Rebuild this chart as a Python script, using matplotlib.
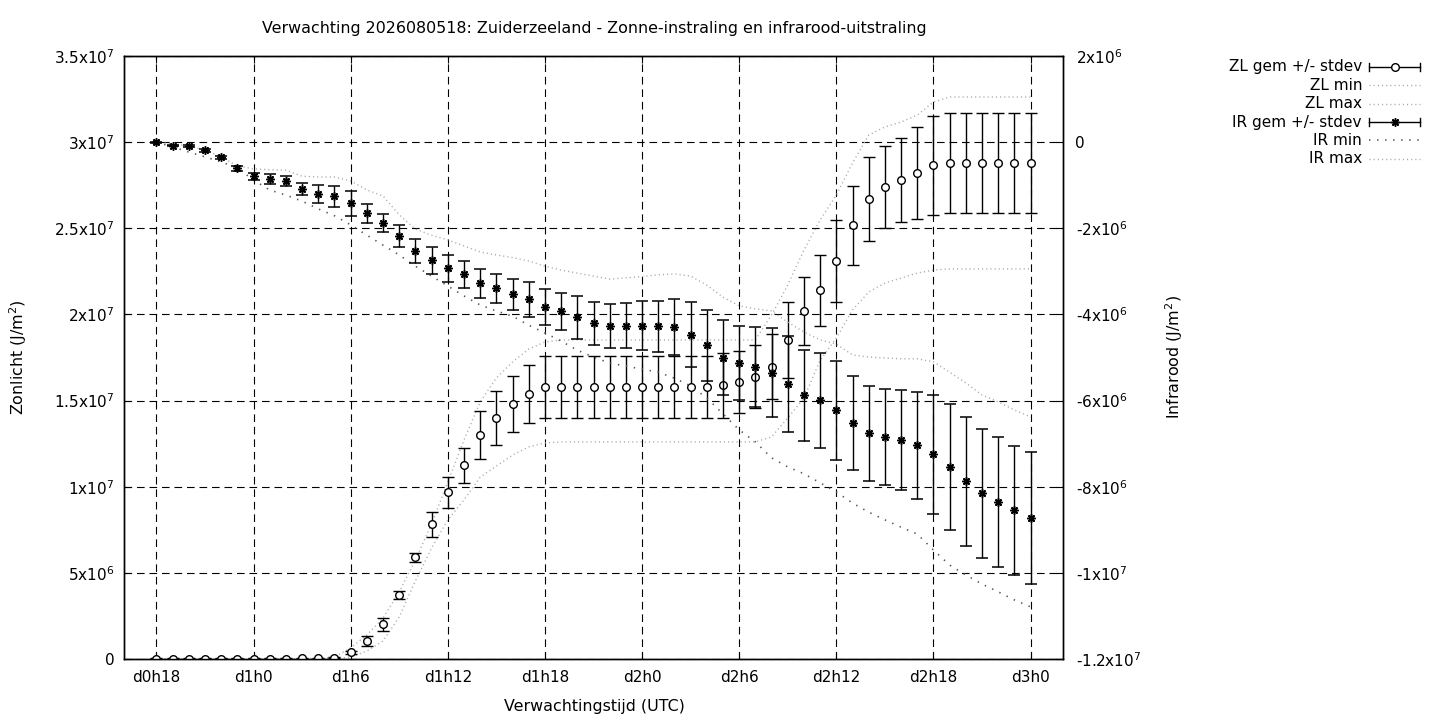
import numpy as np
import matplotlib
matplotlib.use('Agg')
import matplotlib.pyplot as plt
from matplotlib.lines import Line2D

# hours since d0h0 (one forecast step per hour)
hours = np.arange(18, 73)

# Zonlicht (left axis), values in 1e6 J/m2
zl_mean = np.array([0.02] * 9 + [0.03, 0.04, 0.08, 0.39, 1.04, 2.01, 3.70, 5.90, 7.82, 9.67,
                    11.24, 13.00, 13.99, 14.80, 15.38] + [15.79] * 11 +
                   [15.90, 16.06, 16.37, 16.97, 18.52, 20.20, 21.40, 23.08, 25.17, 26.68,
                    27.38, 27.78, 28.19, 28.66] + [28.77] * 6)
zl_sd = np.array([0.02] * 12 + [0.09, 0.29, 0.37, 0.22, 0.28, 0.74, 0.90, 1.00, 1.39, 1.57,
                  1.63, 1.68] + [1.80] * 11 +
                 [1.89, 1.80, 1.83, 1.90, 2.19, 1.97, 2.06, 2.38, 2.28, 2.44, 2.38, 2.44,
                  2.67, 2.88] + [2.90] * 6)
zl_min = np.array([0.0] * 12 + [0.12, 0.46, 1.04, 2.44, 4.53, 6.44, 8.07, 9.23, 10.56, 11.20,
                   11.84, 12.31, 12.54] + [12.60] * 13 +
                  [12.89, 13.99, 15.15, 17.35, 18.63, 20.26, 21.30, 21.82, 22.11, 22.40,
                   22.58] + [22.64] * 6)
zl_max = np.array([0.0] * 11 + [0.12, 0.64, 1.39, 2.38, 3.89, 5.75, 7.84, 10.27, 12.71, 14.92,
                   16.31, 17.24, 17.99, 18.40] + [18.52] * 13 +
                  [19.97, 21.71, 23.74, 25.48, 26.93, 28.79, 30.41, 30.88, 31.17, 31.57,
                   32.33] + [32.62] * 6)

# Infrarood (right axis), values in 1e6 J/m2
ir_mean = np.array([-0.00, -0.08, -0.09, -0.19, -0.35, -0.61, -0.79, -0.85, -0.90, -1.08,
                    -1.20, -1.26, -1.42, -1.65, -1.88, -2.18, -2.53, -2.74, -2.93, -3.07,
                    -3.28, -3.39, -3.53, -3.65, -3.83, -3.93, -4.07, -4.20, -4.26, -4.26,
                    -4.26, -4.28, -4.30, -4.47, -4.72, -5.00, -5.13, -5.23, -5.35, -5.62,
                    -5.88, -5.99, -6.23, -6.53, -6.76, -6.85, -6.92, -7.04, -7.25, -7.55,
                    -7.87, -8.15, -8.36, -8.55, -8.73])
ir_sd = np.array([0.01, 0.02, 0.02, 0.03, 0.03, 0.05, 0.08, 0.12, 0.12, 0.14,
                  0.21, 0.25, 0.29, 0.22, 0.21, 0.26, 0.27, 0.31, 0.31, 0.31,
                  0.34, 0.34, 0.36, 0.41, 0.42, 0.42, 0.49, 0.50, 0.51, 0.53,
                  0.57, 0.59, 0.65, 0.76, 0.82, 0.87, 0.86, 0.93, 1.04, 1.12,
                  1.06, 1.10, 1.14, 1.09, 1.10, 1.11, 1.16, 1.25, 1.39, 1.46,
                  1.50, 1.50, 1.51, 1.50, 1.54])
ir_min = np.array([0.00, -0.11, -0.23, -0.34, -0.46, -0.60, -0.88, -1.11, -1.23, -1.37,
                   -1.55, -1.71, -1.92, -2.16, -2.39, -2.62, -2.88, -3.11, -3.34, -3.57,
                   -3.78, -3.92, -4.04, -4.25, -4.43, -4.62, -4.83, -4.99, -5.13, -5.20,
                   -5.27, -5.34, -5.48, -5.66, -5.94, -6.31, -6.68, -6.96, -7.33, -7.54,
                   -7.70, -7.91, -8.12, -8.38, -8.59, -8.77, -8.94, -9.10, -9.47, -9.82,
                   -10.05, -10.26, -10.44, -10.63, -10.79])
ir_max = np.array([0.00, -0.04, -0.09, -0.18, -0.34, -0.55, -0.62, -0.64, -0.65, -0.79,
                   -0.81, -0.81, -0.90, -1.11, -1.25, -1.69, -2.02, -2.16, -2.27, -2.41,
                   -2.55, -2.62, -2.68, -2.76, -2.88, -2.97, -3.04, -3.11, -3.18, -3.15,
                   -3.12, -3.08, -3.06, -3.11, -3.32, -3.60, -3.80, -3.87, -3.92, -4.18,
                   -4.41, -4.59, -4.69, -4.94, -4.99, -5.01, -5.03, -5.03, -5.10, -5.34,
                   -5.59, -5.87, -6.03, -6.22, -6.38])

x_ticks = [18, 24, 30, 36, 42, 48, 54, 60, 66, 72]
x_labels = ['d0h18', 'd1h0', 'd1h6', 'd1h12', 'd1h18', 'd2h0', 'd2h6', 'd2h12', 'd2h18', 'd3h0']
zl_ticks = [0, 5e6, 1e7, 1.5e7, 2e7, 2.5e7, 3e7, 3.5e7]
zl_labels = ['0', '5x10$^6$', '1x10$^7$', '1.5x10$^7$', '2x10$^7$', '2.5x10$^7$', '3x10$^7$', '3.5x10$^7$']
ir_ticks = [2e6, 0, -2e6, -4e6, -6e6, -8e6, -1e7, -1.2e7]
ir_labels = ['2x10$^6$', '0', '-2x10$^6$', '-4x10$^6$', '-6x10$^6$', '-8x10$^6$', '-1x10$^7$', '-1.2x10$^7$']

title = 'Verwachting 2026080518: Zuiderzeeland - Zonne-instraling en infrarood-uitstraling'

plt.rcParams['font.family'] = 'DejaVu Sans'
plt.rcParams['font.size'] = 11
plt.rcParams['lines.scale_dashes'] = False

W, H = 1440, 720
fig = plt.figure(figsize=(W / 100, H / 100), dpi=100)
ax = fig.add_axes([124 / W, 1 - 659 / H, (1063 - 124) / W, (659 - 56) / H])
ax2 = ax.twinx()

light = '#a8a8a8'
dark = '#555555'
light_ls = (0, (0.8, 2.2))
dark_ls = (0, (1.0, 4.8))
star = (8, 2, 0)

# grid
ax.grid(True, color='black', linestyle=(0, (5.5, 3.5)), linewidth=0.8)

# zonlicht
ax.errorbar(hours, zl_mean * 1e6, yerr=zl_sd * 1e6, linestyle='none', marker='o', ms=5.5,
            mfc='white', mec='black', mew=1, ecolor='black', elinewidth=1,
            capsize=4, capthick=1, zorder=3)
ax.plot(hours, zl_min * 1e6, color=light, lw=1, linestyle=light_ls)
ax.plot(hours, zl_max * 1e6, color=light, lw=1, linestyle=light_ls)

# infrarood
ax2.errorbar(hours, ir_mean * 1e6, yerr=ir_sd * 1e6, linestyle='none', marker=star, ms=6,
             mec='black', mew=1.1, ecolor='black', elinewidth=1,
             capsize=4, capthick=1, zorder=3)
ax2.plot(hours, ir_min * 1e6, color=dark, lw=1.2, linestyle=dark_ls)
ax2.plot(hours, ir_max * 1e6, color=light, lw=1, linestyle=light_ls)

ax.set_xlim(16, 74)
ax.set_ylim(0, 3.5e7)
ax2.set_ylim(-1.2e7, 2e6)
ax.set_xticks(x_ticks, x_labels)
ax.set_yticks(zl_ticks, zl_labels)
ax2.set_yticks(ir_ticks, ir_labels)

ax.tick_params(axis='x', direction='in', length=5, top=True, pad=8)
ax.tick_params(axis='y', direction='in', length=5, right=False, pad=7)
ax2.tick_params(axis='y', direction='in', length=5, pad=9)
for a in (ax, ax2):
    for s in a.spines.values():
        s.set_linewidth(1)

# texts
def fx(px):
    return px / W

def fy(py):
    return 1 - py / H

fig.text(fx(594), fy(29), title, ha='center', va='center', fontsize=11.4)
fig.text(fx(594), fy(706), 'Verwachtingstijd (UTC)', ha='center', va='center', fontsize=11.4)
fig.text(fx(18), fy(357), 'Zonlicht (J/m$^2$)', rotation=90, ha='center', va='center', fontsize=11.4)
fig.text(fx(1174), fy(357), 'Infrarood (J/m$^2$)', rotation=90, ha='center', va='center', fontsize=11.4)

# legend (gnuplot style: text right aligned, sample to the right)
entries = [
    ('ZL gem +/- stdev', 'zl'),
    ('ZL min', 'light'),
    ('ZL max', 'light'),
    ('IR gem +/- stdev', 'ir'),
    ('IR min', 'dark'),
    ('IR max', 'light'),
]
x0, x1 = 1369, 1420
for i, (label, kind) in enumerate(entries):
    y = 67 + i * 18.35
    fig.text(fx(1362), fy(y), label, ha='right', va='center')
    if kind in ('zl', 'ir'):
        fig.add_artist(Line2D([fx(x0), fx(x1)], [fy(y), fy(y)], color='black', lw=1))
        for xc in (x0, x1):
            fig.add_artist(Line2D([fx(xc), fx(xc)], [fy(y - 4), fy(y + 4)], color='black', lw=1))
        if kind == 'zl':
            fig.add_artist(Line2D([fx((x0 + x1) / 2)], [fy(y)], marker='o', ms=5.5,
                                  mfc='white', mec='black', mew=1))
        else:
            fig.add_artist(Line2D([fx((x0 + x1) / 2)], [fy(y)], marker=star, ms=6,
                                  mec='black', mew=1.1))
    elif kind == 'light':
        fig.add_artist(Line2D([fx(x0), fx(x1)], [fy(y), fy(y)], color=light, lw=1,
                              linestyle=light_ls))
    else:
        fig.add_artist(Line2D([fx(x0), fx(x1)], [fy(y), fy(y)], color=dark, lw=1.2,
                              linestyle=dark_ls))

fig.savefig('out.png', dpi=100)
